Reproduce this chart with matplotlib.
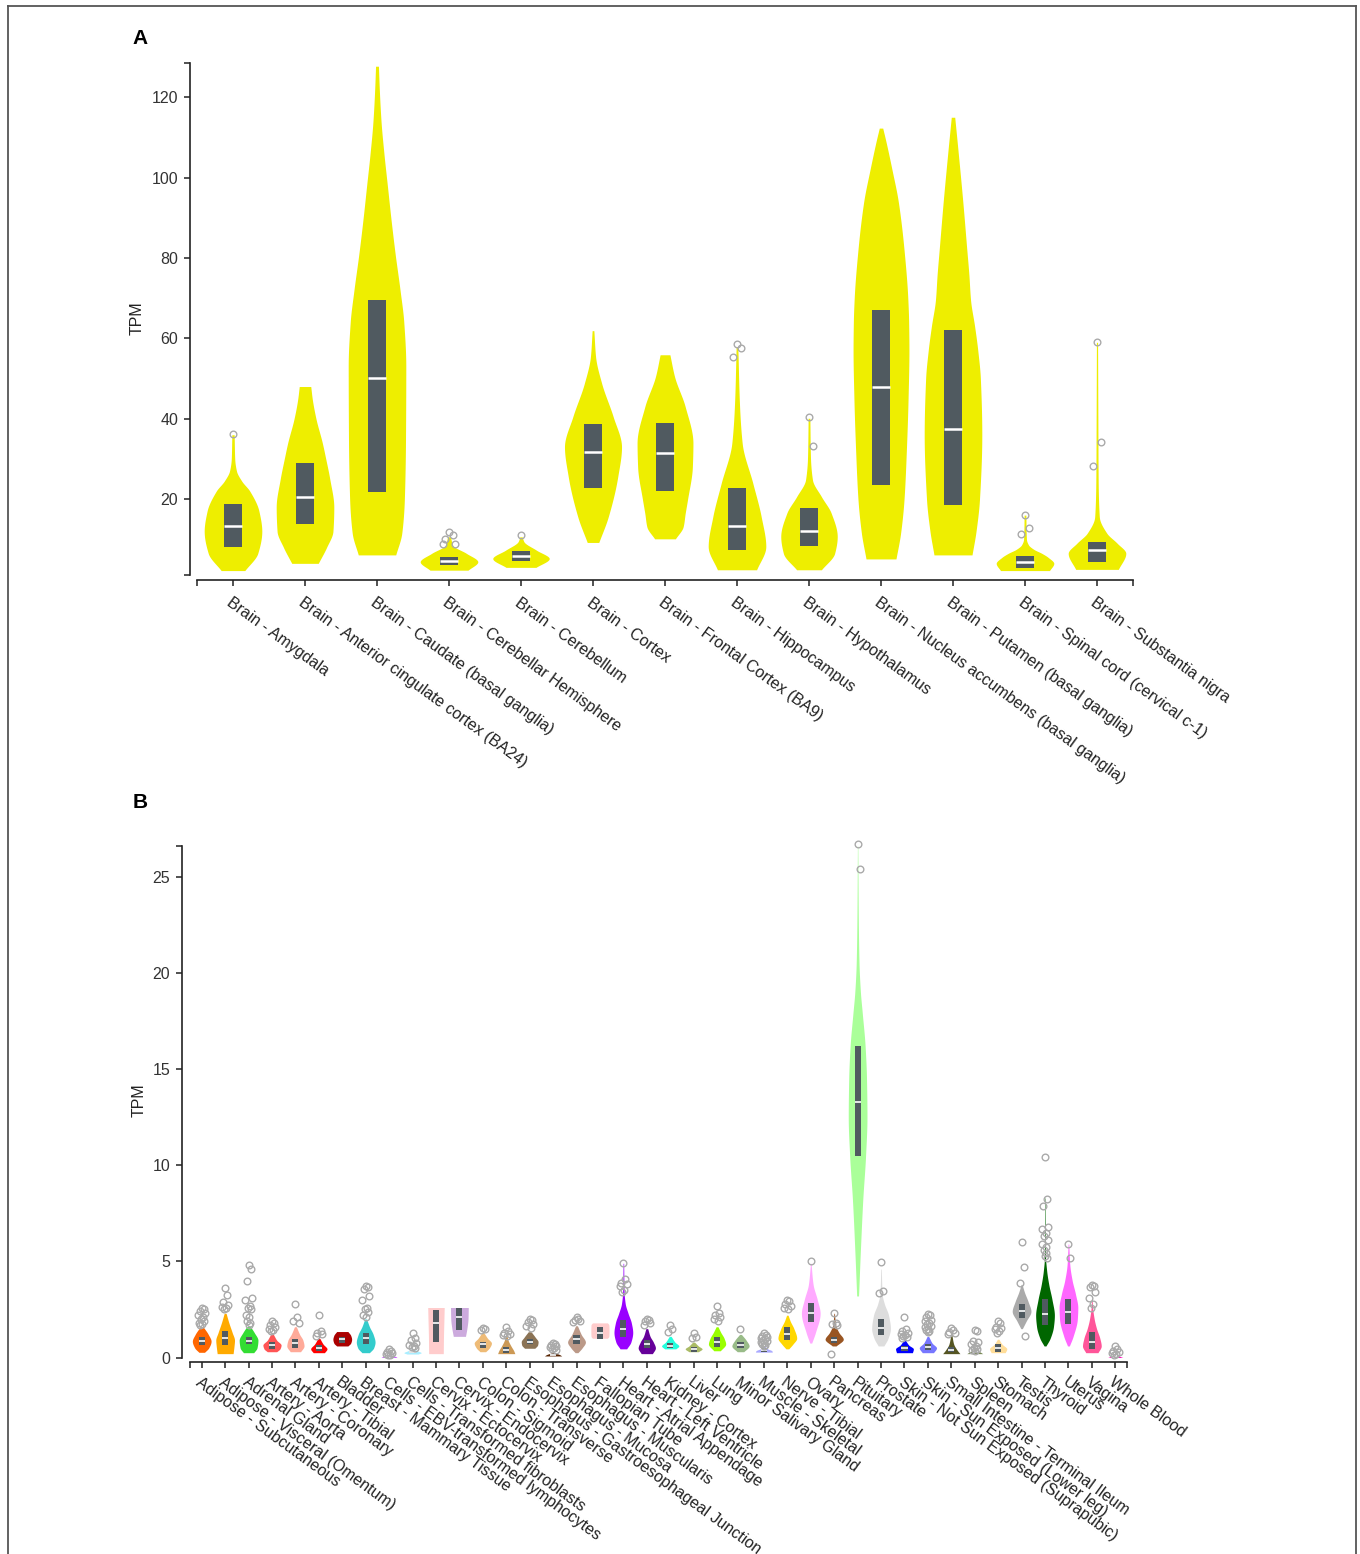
import matplotlib
matplotlib.use("Agg")
import matplotlib.pyplot as plt
import matplotlib.transforms as mtransforms
from matplotlib.patches import Rectangle
from matplotlib.lines import Line2D
import numpy as np

plt.rcParams['font.family'] = ['Liberation Sans', 'DejaVu Sans']

# ---------------- panel A : brain tissues ----------------
brain_tissues = ["Brain - Amygdala", "Brain - Anterior cingulate cortex (BA24)",
                 "Brain - Caudate (basal ganglia)", "Brain - Cerebellar Hemisphere",
                 "Brain - Cerebellum", "Brain - Cortex", "Brain - Frontal Cortex (BA9)",
                 "Brain - Hippocampus", "Brain - Hypothalamus",
                 "Brain - Nucleus accumbens (basal ganglia)", "Brain - Putamen (basal ganglia)",
                 "Brain - Spinal cord (cervical c-1)", "Brain - Substantia nigra"]
# violin outline: TPM levels and relative half-widths
brain_levels = [
    [2.2, 6.5, 12, 17, 22, 24.5, 27, 30, 36],
    [4.0, 8, 12, 18, 25, 30, 34, 40, 45, 48],
    [6.1, 11.5, 20, 35, 53, 64, 72, 81, 90, 98, 106, 114, 122, 127.7],
    [2.3, 4.4, 6.5, 8.5, 10.6],
    [3.0, 5.2, 7.3, 9.4, 10.6],
    [9.2, 15.6, 25.6, 33, 40.5, 48.8, 55.4, 61.9],
    [10.1, 13.1, 16.4, 19.8, 28, 33.9, 43, 50.5, 55.9],
    [2.4, 8.2, 15.6, 23.9, 33.9, 44.7, 57.9],
    [2.4, 6.5, 10.7, 16.5, 20.6, 24.8, 30.6, 40.1],
    [5.1, 11.5, 20, 32, 45, 57, 64, 70, 82, 94, 102, 109, 112.3],
    [6.1, 12, 20, 36, 50, 57, 63, 69.5, 76, 82, 94, 107, 115],
    [2.2, 4, 5.5, 6.5, 7.5, 8.6, 10, 16],
    [2.5, 6.5, 9, 11.5, 15.6, 25, 40, 59],
]
brain_widths = [
    [0.41, 0.86, 1.0, 0.9, 0.58, 0.3, 0.12, 0.06, 0.04],
    [0.46, 0.75, 0.97, 1.0, 0.86, 0.72, 0.6, 0.38, 0.25, 0.2],
    [0.65, 0.86, 0.95, 0.99, 1.0, 0.93, 0.8, 0.63, 0.48, 0.36, 0.24, 0.14, 0.08, 0.05],
    [0.66, 1.0, 0.6, 0.13, 0.05],
    [0.52, 0.98, 0.53, 0.1, 0.04],
    [0.2, 0.53, 0.86, 0.99, 0.7, 0.3, 0.09, 0.03],
    [0.36, 0.63, 0.7, 0.78, 0.95, 0.97, 0.7, 0.33, 0.17],
    [0.68, 1.0, 0.84, 0.55, 0.18, 0.08, 0.03],
    [0.43, 0.89, 0.98, 0.77, 0.43, 0.12, 0.05, 0.03],
    [0.52, 0.68, 0.8, 0.88, 0.94, 0.97, 0.96, 0.93, 0.8, 0.6, 0.38, 0.17, 0.06],
    [0.66, 0.8, 0.92, 1.0, 0.95, 0.86, 0.75, 0.61, 0.55, 0.48, 0.34, 0.17, 0.06],
    [0.85, 1.0, 0.8, 0.58, 0.3, 0.12, 0.05, 0.03],
    [0.74, 1.0, 0.7, 0.34, 0.08, 0.04, 0.03, 0.02],
]
brain_q1 = [8.0, 13.8, 21.8, 3.6, 4.6, 22.8, 22.1, 7.2, 8.4, 23.6, 18.4, 2.9, 4.3]
brain_med = [13.3, 20.5, 50.0, 4.7, 5.8, 31.8, 31.5, 13.2, 12.0, 48.0, 37.4, 4.3, 7.2]
brain_q3 = [18.7, 29.0, 69.5, 5.6, 7.1, 38.6, 39.0, 22.8, 17.7, 67.1, 62.1, 5.9, 9.4]
brain_outliers = [[36.3], [], [], [11.8, 11.1, 10.1, 8.7, 8.7], [11.1], [], [],
                  [58.5, 57.7, 55.3], [40.5, 33.2], [], [], [16.0, 12.9, 11.2],
                  [59.0, 34.3, 28.1]]

# ---------------- panel B : other tissues ----------------
gtex_tissues = ["Adipose - Subcutaneous", "Adipose - Visceral (Omentum)", "Adrenal Gland",
                "Artery - Aorta", "Artery - Coronary", "Artery - Tibial", "Bladder",
                "Breast - Mammary Tissue", "Cells - EBV-transformed lymphocytes",
                "Cells - Transformed fibroblasts", "Cervix - Ectocervix", "Cervix - Endocervix",
                "Colon - Sigmoid", "Colon - Transverse",
                "Esophagus - Gastroesophageal Junction", "Esophagus - Mucosa",
                "Esophagus - Muscularis", "Fallopian Tube", "Heart - Atrial Appendage",
                "Heart - Left Ventricle", "Kidney - Cortex", "Liver", "Lung",
                "Minor Salivary Gland", "Muscle - Skeletal", "Nerve - Tibial", "Ovary",
                "Pancreas", "Pituitary", "Prostate", "Skin - Not Sun Exposed (Suprapubic)",
                "Skin - Sun Exposed (Lower leg)", "Small Intestine - Terminal Ileum", "Spleen",
                "Stomach", "Testis", "Thyroid", "Uterus", "Vagina", "Whole Blood"]
gtex_colors = ["#FF6600", "#FFAA00", "#33DD33", "#FF5555", "#FFAA99", "#FF0000", "#AA0000",
               "#33CCCC", "#CC66FF", "#AAEEFF", "#FFCCCC", "#CCAADD", "#EEBB77", "#CC9955",
               "#8B7355", "#552200", "#BB9988", "#FFCCCC", "#9900FF", "#660099", "#22FFDD",
               "#AABB66", "#99FF00", "#99BB88", "#AAAAFF", "#FFD700", "#FFAAFF", "#995522",
               "#AAFF99", "#DDDDDD", "#0000FF", "#7777FF", "#555522", "#778855", "#FFDD99",
               "#AAAAAA", "#006600", "#FF66FF", "#FF5599", "#FF00BB"]
gtex_levels = [
    [0.27, 0.5, 0.85, 1.2, 1.6], [0.2, 0.6, 0.9, 1.3, 1.8, 2.3], [0.25, 0.5, 0.9, 1.3, 1.6],
    [0.3, 0.45, 0.65, 0.9, 1.2], [0.3, 0.6, 0.9, 1.2, 1.6], [0.25, 0.45, 0.7, 1.0],
    [0.6, 0.75, 0.95, 1.15, 1.35], [0.25, 0.5, 0.8, 1.2, 1.6, 2.0], [0.0, 0.05, 0.12],
    [0.18, 0.25, 0.35, 0.45], [0.2, 1.0, 2.0, 2.6], [1.1, 1.5, 2.0, 2.6],
    [0.3, 0.5, 0.75, 1.0, 1.3], [0.2, 0.35, 0.6, 0.9, 1.2], [0.48, 0.65, 0.82, 1.05, 1.34],
    [0.08, 0.15, 0.25], [0.25, 0.5, 0.8, 1.2, 1.65], [1.0, 1.1, 1.4, 1.7, 1.8],
    [0.45, 0.8, 1.3, 1.8, 2.3, 2.8, 3.4, 4.9], [0.2, 0.5, 0.8, 1.1, 1.5], [0.45, 0.6, 0.8, 1.1],
    [0.3, 0.45, 0.6, 0.8], [0.35, 0.7, 1.0, 1.3, 1.6], [0.3, 0.6, 0.9, 1.2],
    [0.28, 0.35, 0.45, 0.6], [0.45, 0.7, 1.0, 1.5, 1.9, 2.2], [0.75, 1.3, 2.3, 3.0, 3.8, 4.9],
    [0.6, 0.95, 1.3, 1.7, 2.3],
    [3.2, 5.6, 8.2, 10.5, 12.5, 14.5, 16.2, 17.9, 19, 20.5, 23, 26.6],
    [0.6, 1.0, 1.5, 2.2, 2.8, 3.3, 4.6], [0.25, 0.45, 0.65, 0.9], [0.25, 0.5, 0.75, 1.1],
    [0.2, 0.4, 0.7, 1.2], [0.2, 0.28, 0.4, 0.5], [0.25, 0.45, 0.7, 0.95],
    [1.5, 1.9, 2.4, 2.9, 3.4, 3.8], [0.6, 1.0, 1.6, 2.2, 3.0, 3.8, 4.5, 5.3, 8.3],
    [0.6, 1.1, 2.0, 2.6, 3.3, 4.0, 4.8, 5.9], [0.25, 0.6, 1.0, 1.5, 2.0, 2.6, 3.0],
    [0.0, 0.05, 0.1],
]
gtex_widths = [
    [0.3, 0.75, 1.0, 0.7, 0.15], [0.85, 0.95, 1.0, 0.75, 0.4, 0.1], [0.55, 0.9, 1.0, 0.6, 0.2],
    [0.5, 0.85, 0.97, 0.5, 0.15], [0.55, 0.92, 0.8, 0.45, 0.1], [0.6, 0.87, 0.45, 0.1],
    [0.6, 0.9, 1.0, 0.9, 0.6], [0.4, 0.85, 1.0, 0.8, 0.4, 0.1], [0.85, 0.7, 0.1],
    [0.6, 0.92, 0.5, 0.15], [0.78, 0.8, 0.85, 0.88], [0.65, 0.8, 0.92, 0.95],
    [0.3, 0.7, 0.92, 0.5, 0.1], [0.92, 0.8, 0.5, 0.2, 0.05], [0.55, 0.85, 0.9, 0.6, 0.15],
    [0.92, 0.7, 0.1], [0.15, 0.6, 0.95, 0.5, 0.1], [0.8, 0.95, 0.97, 0.95, 0.8],
    [0.35, 0.8, 1.0, 0.85, 0.5, 0.2, 0.08, 0.03], [0.6, 0.92, 0.7, 0.35, 0.1],
    [0.6, 0.92, 0.5, 0.1], [0.5, 0.9, 0.5, 0.1], [0.35, 0.92, 0.75, 0.4, 0.1],
    [0.35, 0.92, 0.6, 0.1], [0.9, 0.85, 0.4, 0.1], [0.15, 0.6, 1.0, 0.7, 0.3, 0.08],
    [0.1, 0.5, 1.0, 0.7, 0.25, 0.03], [0.2, 0.97, 0.5, 0.15, 0.03],
    [0.1, 0.3, 0.55, 0.85, 1.0, 0.95, 0.8, 0.5, 0.3, 0.15, 0.07, 0.02],
    [0.3, 0.75, 1.0, 0.8, 0.35, 0.12, 0.03], [0.85, 0.95, 0.45, 0.1], [0.6, 0.92, 0.45, 0.08],
    [0.92, 0.6, 0.25, 0.05], [0.85, 0.6, 0.15, 0.04], [0.75, 0.92, 0.4, 0.08],
    [0.08, 0.5, 1.0, 0.7, 0.3, 0.05], [0.1, 0.55, 0.9, 1.0, 0.75, 0.4, 0.18, 0.05, 0.02],
    [0.1, 0.5, 0.95, 1.0, 0.75, 0.4, 0.15, 0.03], [0.65, 1.0, 0.85, 0.5, 0.25, 0.08, 0.03],
    [0.8, 0.5, 0.1],
]
gtex_q1 = [0.63, 0.65, 0.7, 0.46, 0.48, 0.36, 0.77, 0.7, 0.02, 0.25, 0.83, 1.45, 0.5, 0.25,
           0.7, 0.11, 0.7, 0.96, 1.05, 0.48, 0.48, 0.3, 0.57, 0.48, 0.3, 0.9, 1.87, 0.77,
           10.5, 1.17, 0.36, 0.39, 0.3, 0.22, 0.3, 2.07, 1.69, 1.75, 0.43, 0.02]
gtex_med = [0.86, 1.0, 0.86, 0.63, 0.74, 0.5, 0.94, 1.0, 0.05, 0.3, 1.78, 2.1, 0.68, 0.4,
            0.82, 0.15, 0.96, 1.3, 1.48, 0.68, 0.6, 0.42, 0.8, 0.65, 0.38, 1.22, 2.3, 0.93,
            13.3, 1.55, 0.47, 0.55, 0.4, 0.27, 0.5, 2.42, 2.27, 2.35, 0.82, 0.04]
gtex_q3 = [1.08, 1.38, 1.08, 0.8, 0.96, 0.65, 1.08, 1.26, 0.08, 0.36, 2.47, 2.6, 0.82, 0.56,
           0.95, 0.19, 1.17, 1.57, 1.95, 0.91, 0.74, 0.56, 1.05, 0.82, 0.47, 1.57, 2.82, 1.08,
           16.2, 2.0, 0.6, 0.7, 0.56, 0.32, 0.68, 2.77, 3.03, 3.05, 1.35, 0.07]
gtex_outliers = [
    [2.6, 2.5, 2.4, 2.3, 2.2, 2.1, 2.0, 1.9, 1.8, 1.75, 1.7],
    [3.6, 3.25, 2.9, 2.75, 2.65, 2.6, 2.5],
    [4.8, 4.6, 4.0, 3.1, 3.0, 2.7, 2.6, 2.5, 2.2, 2.1, 1.9, 1.8, 1.7],
    [1.9, 1.8, 1.7, 1.6, 1.5, 1.45, 1.4],
    [2.8, 2.1, 1.9, 1.8],
    [2.2, 1.4, 1.3, 1.2, 1.1],
    [],
    [3.7, 3.65, 3.55, 3.2, 3.0, 2.6, 2.5, 2.35, 2.2, 2.1],
    [0.45, 0.35, 0.3, 0.25, 0.2, 0.15, 0.12],
    [1.25, 1.0, 0.9, 0.75, 0.65, 0.6, 0.55, 0.5],
    [], [],
    [1.55, 1.5, 1.45],
    [1.6, 1.4, 1.3, 1.2, 1.15, 1.1],
    [2.0, 1.95, 1.85, 1.75, 1.65, 1.55],
    [0.75, 0.7, 0.65, 0.6, 0.55, 0.5, 0.45, 0.4],
    [2.1, 2.0, 1.95, 1.9, 1.85],
    [],
    [4.9, 4.1, 3.9, 3.8, 3.7, 3.5, 3.4],
    [2.0, 1.95, 1.9, 1.8, 1.7],
    [1.7, 1.5, 1.35],
    [1.3, 1.05, 1.0],
    [2.7, 2.3, 2.2, 2.1, 2.0, 1.9],
    [1.5],
    [1.25, 1.15, 1.1, 1.05, 1.0, 0.95, 0.9, 0.85, 0.8, 0.75, 0.7, 0.65, 0.6],
    [3.0, 2.95, 2.8, 2.7, 2.6, 2.5],
    [5.0],
    [2.3, 1.8, 1.75, 1.7, 0.16],
    [26.7, 25.4],
    [4.95, 3.45, 3.35],
    [2.1, 1.5, 1.4, 1.3, 1.2, 1.15, 1.1, 1.05, 1.0],
    [2.25, 2.2, 2.1, 1.95, 1.9, 1.8, 1.75, 1.65, 1.6, 1.5, 1.45, 1.4, 1.35],
    [1.55, 1.45, 1.35, 1.3, 1.2],
    [1.42, 1.38, 0.85, 0.8, 0.7, 0.6, 0.5, 0.45, 0.4, 0.35],
    [1.9, 1.8, 1.6, 1.55, 1.5, 1.4, 1.3],
    [6.0, 4.7, 3.9, 1.1],
    [10.45, 8.25, 7.9, 6.8, 6.7, 6.5, 6.3, 6.1, 5.9, 5.75, 5.6, 5.45, 5.3, 5.15],
    [5.9, 5.2],
    [3.75, 3.7, 3.65, 3.4, 3.1, 2.8, 2.6],
    [0.6, 0.45, 0.35, 0.3, 0.25, 0.2, 0.15],
]

W, H = 1360, 1554
fig = plt.figure(figsize=(W / 100, H / 100), dpi=100)

BOX = '#505a60'
AXC = '#222222'
JIT = [0.0, 0.6, -0.6, 1.0, -1.0, 0.3, -0.3, 0.8, -0.8, 0.15, -0.45, 0.45]
FS = 11.5


def px_axes(left, top, right, bottom):
    return fig.add_axes([left / W, 1 - bottom / H, (right - left) / W, (bottom - top) / H])


def pchip(xk, yk, x):
    xk = np.asarray(xk, float)
    yk = np.asarray(yk, float)
    h = np.diff(xk)
    d = np.diff(yk) / h
    m = np.zeros_like(yk)
    m[0], m[-1] = d[0], d[-1]
    for k in range(1, len(xk) - 1):
        if d[k - 1] * d[k] > 0:
            w1 = 2 * h[k] + h[k - 1]
            w2 = h[k] + 2 * h[k - 1]
            m[k] = (w1 + w2) / (w1 / d[k - 1] + w2 / d[k])
    idx = np.clip(np.searchsorted(xk, x) - 1, 0, len(h) - 1)
    t = (x - xk[idx]) / h[idx]
    h00 = 2 * t**3 - 3 * t**2 + 1
    h10 = t**3 - 2 * t**2 + t
    h01 = -2 * t**3 + 3 * t**2
    h11 = t**3 - t**2
    return h00 * yk[idx] + h10 * h[idx] * m[idx] + h01 * yk[idx + 1] + h11 * h[idx] * m[idx + 1]


def draw_violins(ax, levels, widths, q1, med, q3, outliers, colors, jitter, med_lw):
    vw, bw = 0.40, 0.13
    for i in range(len(levels)):
        lv = levels[i]
        yy = np.linspace(lv[0], lv[-1], 400)
        ww = np.clip(pchip(lv, widths[i], yy), 0.015, None) * vw
        ax.fill_betweenx(yy, i - ww, i + ww, color=colors[i], lw=0, zorder=2)
        ax.add_patch(Rectangle((i - bw, q1[i]), 2 * bw, q3[i] - q1[i],
                               facecolor=BOX, edgecolor='none', zorder=3))
        ax.plot([i - bw, i + bw], [med[i], med[i]], color='white', lw=med_lw,
                solid_capstyle='butt', zorder=4)
        out = outliers[i]
        if out:
            ox = [i + jitter * JIT[k % len(JIT)] for k in range(len(out))]
            ax.plot(ox, out, 'o', mfc='none', mec='#aaaaaa', ms=4.8, mew=1.0,
                    zorder=5, clip_on=False)


def style_axes(ax, n, ylim, yticks, left_out, bottom_out):
    ax.set_xlim(-0.5, n - 0.5)
    ax.set_ylim(*ylim)
    ax.patch.set_alpha(0)
    for s in ['top', 'right']:
        ax.spines[s].set_visible(False)
    for s in ['left', 'bottom']:
        ax.spines[s].set_color(AXC)
        ax.spines[s].set_linewidth(1.2)
    ax.spines['left'].set_position(('outward', left_out * 0.72))
    ax.spines['bottom'].set_position(('outward', bottom_out * 0.72))
    ax.set_yticks(yticks)
    ax.set_yticks(list(ylim), minor=True)
    ax.set_xticks(range(n))
    ax.set_xticks([-0.5, n - 0.5], minor=True)
    ax.tick_params(which='both', length=4.5, width=1.1, color=AXC)
    ax.tick_params(axis='x', which='both', labelbottom=False)
    ax.tick_params(axis='y', labelsize=FS, labelcolor='#333333', pad=4)


def tissue_labels(ax, names, drop):
    tr = mtransforms.offset_copy(ax.get_xaxis_transform(), fig=fig, y=-drop, units='dots')
    for i, name in enumerate(names):
        ax.text(i, 0, name, transform=tr, rotation=-36, rotation_mode='anchor',
                ha='left', va='top', fontsize=FS, color='#222222')


# panel A
axA = px_axes(197, 63, 1133, 575)
draw_violins(axA, brain_levels, brain_widths, brain_q1, brain_med, brain_q3,
             brain_outliers, ['#EEEE00'] * len(brain_tissues), 0.09, 1.8)
style_axes(axA, len(brain_tissues), (1.1, 128.5), [20, 40, 60, 80, 100, 120], 7, 5)
tissue_labels(axA, brain_tissues, 20)

# panel B
axB = px_axes(190, 846, 1127, 1357.5)
draw_violins(axB, gtex_levels, gtex_widths, gtex_q1, gtex_med, gtex_q3,
             gtex_outliers, gtex_colors, 0.14, 1.2)
style_axes(axB, len(gtex_tissues), (0, 26.6), [0, 5, 10, 15, 20, 25], 8, 4.5)
tissue_labels(axB, gtex_tissues, 17)

# titles, axis names
fig.text(140 / W, 1 - 38 / H, 'A', fontsize=15, fontweight='bold', ha='center', va='center')
fig.text(140 / W, 1 - 803 / H, 'B', fontsize=15, fontweight='bold', ha='center', va='center')
fig.text(137 / W, 1 - 318 / H, 'TPM', rotation=90, fontsize=FS, color='#222222',
         ha='center', va='center')
fig.text(139 / W, 1 - 1100 / H, 'TPM', rotation=90, fontsize=FS, color='#222222',
         ha='center', va='center')

# outer frame (open at the bottom)
for xs, ys in [([8, 8], [6, H]), ([8, 1356], [6, 6]), ([1356, 1356], [6, H])]:
    fig.add_artist(Line2D([x / W for x in xs], [1 - y / H for y in ys],
                          transform=fig.transFigure, color='#555555', lw=1.3))

fig.savefig('out.png', dpi=100)
